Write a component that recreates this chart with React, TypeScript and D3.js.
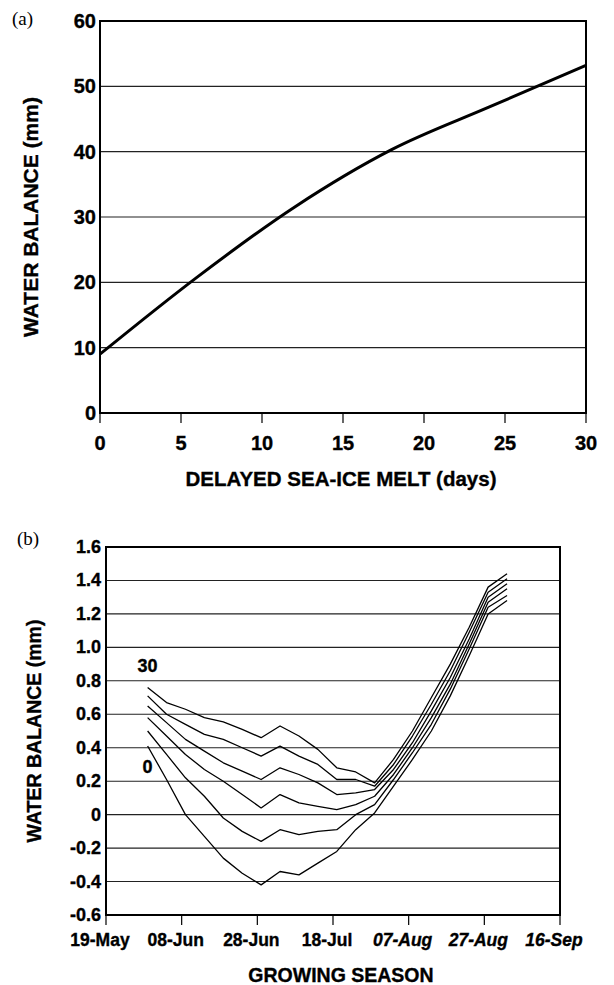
import { useEffect, useRef } from "react";
import * as d3 from "d3";

// panel (a): total water balance vs delay of sea-ice melt
const delayDays = [0, 6, 12, 18, 24, 30];
const totalBalance = [9, 20.8, 31.5, 40.3, 46.8, 53.2];
const delayTicks = [0, 5, 10, 15, 20, 25, 30];
const totalTicks = [0, 10, 20, 30, 40, 50, 60];

// panel (b): daily water balance through the growing season, one line per delay
const seasonDates = [
  "1990-05-30", "1990-06-04", "1990-06-09", "1990-06-14", "1990-06-19",
  "1990-06-24", "1990-06-29", "1990-07-04", "1990-07-09", "1990-07-14",
  "1990-07-19", "1990-07-24", "1990-07-29", "1990-08-03", "1990-08-08",
  "1990-08-13", "1990-08-18", "1990-08-23", "1990-08-28", "1990-09-02",
];
const delay30 = [0.76, 0.67, 0.63, 0.58, 0.555, 0.51, 0.46, 0.53, 0.47, 0.39, 0.28, 0.255, 0.19, 0.33, 0.5, 0.7, 0.9, 1.12, 1.36, 1.44];
const delay24 = [0.71, 0.6, 0.54, 0.48, 0.45, 0.4, 0.35, 0.41, 0.35, 0.3, 0.21, 0.21, 0.17, 0.3, 0.47, 0.66, 0.86, 1.09, 1.33, 1.41];
const delay18 = [0.65, 0.55, 0.45, 0.38, 0.31, 0.26, 0.21, 0.28, 0.24, 0.19, 0.12, 0.13, 0.15, 0.27, 0.43, 0.62, 0.82, 1.05, 1.3, 1.38];
const delay12 = [0.58, 0.47, 0.36, 0.27, 0.2, 0.12, 0.04, 0.12, 0.07, 0.05, 0.03, 0.06, 0.11, 0.24, 0.4, 0.58, 0.78, 1.02, 1.27, 1.35];
const delay6 = [0.5, 0.36, 0.22, 0.11, -0.02, -0.1, -0.16, -0.09, -0.12, -0.1, -0.09, 0.0, 0.06, 0.21, 0.37, 0.54, 0.75, 0.99, 1.24, 1.31];
const delay0 = [0.41, 0.21, 0.0, -0.13, -0.26, -0.35, -0.42, -0.34, -0.36, -0.29, -0.22, -0.09, 0.01, 0.17, 0.33, 0.5, 0.71, 0.95, 1.2, 1.28];
const seasonTicks = ["1990-05-19", "1990-06-08", "1990-06-28", "1990-07-18", "1990-08-07", "1990-08-27", "1990-09-16"];
const dailyTicks = [-0.6, -0.4, -0.2, 0, 0.2, 0.4, 0.6, 0.8, 1.0, 1.2, 1.4, 1.6];

const SANS = "'Liberation Sans', Arial, sans-serif";
const SERIF = "'Liberation Serif', 'Times New Roman', serif";

export default function App() {
  const ref = useRef<SVGSVGElement>(null);

  useEffect(() => {
    const svg = d3.select(ref.current);
    svg.selectAll("*").remove();
    drawTotal(svg);
    drawSeason(svg);
    return () => {
      svg.selectAll("*").remove();
    };
  }, []);

  return (
    <svg
      ref={ref}
      width={614}
      height={985}
      style={{ position: "absolute", left: 0, top: 0, background: "#fff" }}
    />
  );
}

// bold sans text, slightly thickened like the printed figure
function boldText(sel: any, size: number) {
  return sel
    .style("font-family", SANS)
    .style("font-weight", "bold")
    .style("font-size", size + "px")
    .attr("fill", "#000")
    .attr("stroke", "#000")
    .attr("stroke-width", 0.35);
}

function drawTotal(svg: any) {
  const x = d3.scaleLinear().domain([0, 30]).range([100, 586]);
  const y = d3.scaleLinear().domain([0, 60]).range([413, 21]);
  const g = svg.append("g");
  const [x0, x1] = x.range();
  const [y0, y1] = y.range();

  g.selectAll("line.grid")
    .data(totalTicks.slice(1, -1))
    .join("line")
    .attr("x1", x0)
    .attr("x2", x1)
    .attr("y1", (d: number) => y(d))
    .attr("y2", (d: number) => y(d))
    .attr("stroke", "#222")
    .attr("stroke-width", 1.1);

  g.append("rect")
    .attr("x", x0)
    .attr("y", y1)
    .attr("width", x1 - x0)
    .attr("height", y0 - y1)
    .attr("fill", "none")
    .attr("stroke", "#000")
    .attr("stroke-width", 2);

  g.selectAll("line.tick")
    .data(delayTicks)
    .join("line")
    .attr("x1", (d: number) => x(d))
    .attr("x2", (d: number) => x(d))
    .attr("y1", y0)
    .attr("y2", y0 + 10)
    .attr("stroke", "#000")
    .attr("stroke-width", 1.2);

  boldText(
    g.selectAll("text.xt")
      .data(delayTicks)
      .join("text")
      .attr("x", (d: number) => x(d))
      .attr("y", 450)
      .attr("text-anchor", "middle"),
    20
  ).text((d: number) => d);

  boldText(
    g.selectAll("text.yt")
      .data(totalTicks)
      .join("text")
      .attr("x", 96)
      .attr("y", (d: number) => y(d) + 7)
      .attr("text-anchor", "end"),
    20
  ).text((d: number) => d);

  const pts = delayDays.map((d, i) => [d, totalBalance[i]] as [number, number]);
  g.append("path")
    .datum(pts)
    .attr("fill", "none")
    .attr("stroke", "#000")
    .attr("stroke-width", 3)
    .attr("stroke-linejoin", "round")
    .attr(
      "d",
      d3
        .line()
        .curve(d3.curveMonotoneX)
        .x((p) => x(p[0]))
        .y((p) => y(p[1]))
    );

  boldText(
    g.append("text").attr("x", 341).attr("y", 486).attr("text-anchor", "middle"),
    20.5
  ).text("DELAYED SEA-ICE MELT (days)");

  boldText(
    g.append("text")
      .attr("transform", "translate(38,217) rotate(-90)")
      .attr("text-anchor", "middle"),
    21
  ).text("WATER BALANCE (mm)");

  g.append("text")
    .attr("x", 12)
    .attr("y", 25)
    .style("font-family", SERIF)
    .style("font-size", "19px")
    .text("(a)");
}

function drawSeason(svg: any) {
  const parse = d3.utcParse("%Y-%m-%d");
  const ticks = seasonTicks.map((s) => parse(s) as Date);
  const x = d3.scaleUtc().domain([ticks[0], ticks[ticks.length - 1]]).range([106, 560]);
  const y = d3.scaleLinear().domain([-0.6, 1.6]).range([915, 547]);
  const g = svg.append("g");
  const [x0, x1] = x.range();
  const [y0, y1] = y.range();
  const fmt = d3.utcFormat("%d-%b");
  const label = (v: number) => (Math.abs(v) < 1e-9 ? "0" : v.toFixed(1));

  g.selectAll("line.grid")
    .data(dailyTicks.slice(1, -1))
    .join("line")
    .attr("x1", x0)
    .attr("x2", x1)
    .attr("y1", (d: number) => y(d))
    .attr("y2", (d: number) => y(d))
    .attr("stroke", "#222")
    .attr("stroke-width", 1.1);

  g.append("rect")
    .attr("x", x0)
    .attr("y", y1)
    .attr("width", x1 - x0)
    .attr("height", y0 - y1)
    .attr("fill", "none")
    .attr("stroke", "#000")
    .attr("stroke-width", 2);

  g.selectAll("line.tick")
    .data(ticks)
    .join("line")
    .attr("x1", (d: Date) => x(d))
    .attr("x2", (d: Date) => x(d))
    .attr("y1", y0)
    .attr("y2", y0 + 10)
    .attr("stroke", "#000")
    .attr("stroke-width", 1.2);

  boldText(
    g.selectAll("text.xt")
      .data(ticks)
      .join("text")
      .attr("x", (d: Date) => x(d) - 6)
      .attr("y", 946)
      .attr("text-anchor", "middle")
      .style("font-style", (_: Date, i: number) => (i >= 4 ? "italic" : "normal")),
    17.5
  ).text((d: Date) => fmt(d));

  boldText(
    g.selectAll("text.yt")
      .data(dailyTicks)
      .join("text")
      .attr("x", 101)
      .attr("y", (d: number) => y(d) + 6)
      .attr("text-anchor", "end"),
    18
  ).text((d: number) => label(d));

  const series = [delay30, delay24, delay18, delay12, delay6, delay0];
  const dates = seasonDates.map((s) => parse(s) as Date);
  const line = d3
    .line<number>()
    .x((_, i) => x(dates[i]))
    .y((v) => y(v));
  g.selectAll("path.series")
    .data(series)
    .join("path")
    .attr("fill", "none")
    .attr("stroke", "#000")
    .attr("stroke-width", 1.3)
    .attr("stroke-linejoin", "round")
    .attr("d", (d: number[]) => line(d));

  // labels for the 30-day and 0-day lines
  boldText(
    g.append("text").attr("x", x(dates[0])).attr("y", 672).attr("text-anchor", "middle"),
    18
  ).text("30");
  boldText(
    g.append("text").attr("x", x(dates[0])).attr("y", 773).attr("text-anchor", "middle"),
    18
  ).text("0");

  boldText(
    g.append("text").attr("x", 341).attr("y", 982).attr("text-anchor", "middle"),
    19.5
  ).text("GROWING SEASON");

  boldText(
    g.append("text")
      .attr("transform", "translate(41,731) rotate(-90)")
      .attr("text-anchor", "middle"),
    19.5
  ).text("WATER BALANCE (mm)");

  g.append("text")
    .attr("x", 17)
    .attr("y", 545)
    .style("font-family", SERIF)
    .style("font-size", "19px")
    .text("(b)");
}
